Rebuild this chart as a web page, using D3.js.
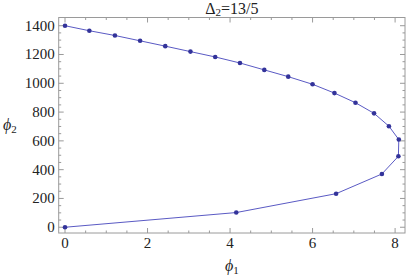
<!DOCTYPE html>
<html>
<head>
<meta charset="utf-8">
<script src="https://cdn.jsdelivr.net/npm/d3@7"></script>
<style>
  body { margin: 0; background: #fff; }
</style>
</head>
<body>
<svg id="chart"></svg>
<script>
// Data
const phi1 = [0, 0.59, 1.21, 1.82, 2.43, 3.04, 3.64, 4.24, 4.83, 5.41, 6.0, 6.53, 7.04, 7.49, 7.85, 8.09,
              8.08, 7.68, 6.57, 4.15, 0];
const phi2 = [1400, 1365, 1332, 1295, 1258, 1220, 1183, 1141, 1093, 1046, 993, 932, 865, 791, 702, 609,
              493, 370, 233, 102, 0];
const xTicks = [0, 2, 4, 6, 8];
const yTicks = [0, 200, 400, 600, 800, 1000, 1200, 1400];

const width = 406, height = 277;
const serif = "'Liberation Serif', 'DejaVu Serif'";
const svg = d3.select("#chart").attr("width", width).attr("height", height)
    .style("font-family", serif);

const frame = { left: 58.7, right: 405, top: 17.5, bottom: 233 };

const x = d3.scaleLinear().domain([-0.153, 8.24]).range([frame.left, frame.right]);
const y = d3.scaleLinear().domain([-40, 1457]).range([frame.bottom, frame.top]);

const frameColor = "#9a9a9a";

// frame
svg.append("rect")
    .attr("x", frame.left).attr("y", frame.top)
    .attr("width", frame.right - frame.left).attr("height", frame.bottom - frame.top)
    .attr("fill", "none").attr("stroke", frameColor).attr("stroke-width", 1);

const xMinor = d3.range(0, 8.01, 0.5).filter(v => !xTicks.includes(v));
const yMinor = d3.range(0, 1450, 50).filter(v => !yTicks.includes(v));

// ticks pointing inward on all four sides
const ticks = svg.append("g").attr("stroke", frameColor).attr("stroke-width", 1);
function xTick(v, len) {
    ticks.append("line").attr("x1", x(v)).attr("x2", x(v)).attr("y1", frame.bottom).attr("y2", frame.bottom - len);
    ticks.append("line").attr("x1", x(v)).attr("x2", x(v)).attr("y1", frame.top).attr("y2", frame.top + len);
}
function yTick(v, len) {
    ticks.append("line").attr("y1", y(v)).attr("y2", y(v)).attr("x1", frame.left).attr("x2", frame.left + len);
    ticks.append("line").attr("y1", y(v)).attr("y2", y(v)).attr("x1", frame.right).attr("x2", frame.right - len);
}
xTicks.forEach(v => xTick(v, 5));
xMinor.forEach(v => xTick(v, 2.5));
yTicks.forEach(v => yTick(v, 5));
yMinor.forEach(v => yTick(v, 2.5));

// tick labels
svg.append("g").selectAll("text").data(xTicks).enter().append("text")
    .attr("x", d => x(d)).attr("y", frame.bottom + 15)
    .attr("text-anchor", "middle").style("font-size", "15px").attr("fill", "#222")
    .text(d => d);
svg.append("g").selectAll("text").data(yTicks).enter().append("text")
    .attr("x", frame.left - 4).attr("y", d => y(d) + 5)
    .attr("text-anchor", "end").style("font-size", "15px").attr("fill", "#222")
    .text(d => d);

// series
const pts = phi1.map((v, i) => [v, phi2[i]]);
const line = d3.line().x(d => x(d[0])).y(d => y(d[1]));
svg.append("path").datum(pts)
    .attr("d", line)
    .attr("fill", "none").attr("stroke", "#5a5ac4").attr("stroke-width", 1);
svg.append("g").selectAll("circle").data(pts).enter().append("circle")
    .attr("cx", d => x(d[0])).attr("cy", d => y(d[1])).attr("r", 2.3)
    .attr("fill", "#33339a");

// title
const title = svg.append("text")
    .attr("x", (frame.left + frame.right) / 2).attr("y", 14)
    .attr("text-anchor", "middle").style("font-size", "16px").attr("fill", "#222");
title.append("tspan").text("Δ");
title.append("tspan").style("font-size", "11px").attr("dy", 2).text("2");
title.append("tspan").attr("dy", -2).text("=13/5");

// axis labels
const xl = svg.append("text")
    .attr("x", (frame.left + frame.right) / 2).attr("y", 271)
    .attr("text-anchor", "middle").style("font-size", "16px").attr("fill", "#222");
xl.append("tspan").style("font-style", "italic").text("ϕ");
xl.append("tspan").style("font-size", "11px").attr("dy", 3).text("1");

const yl = svg.append("text")
    .attr("x", 3).attr("y", 130)
    .style("font-size", "16px").attr("fill", "#222");
yl.append("tspan").style("font-style", "italic").text("ϕ");
yl.append("tspan").style("font-size", "11px").attr("dy", 3).text("2");
</script>
</body>
</html>
